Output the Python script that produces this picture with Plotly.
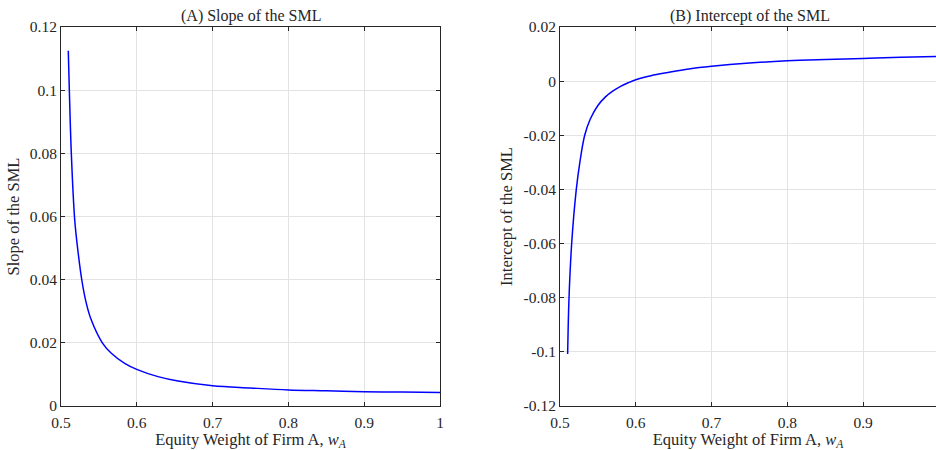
import plotly.graph_objects as go

# ---- data ----
w_slope = [0.5096, 0.511, 0.5136, 0.5181, 0.5224, 0.5277, 0.5334, 0.5400, 0.5545, 0.5664, 0.5840, 0.5999,
           0.6280, 0.6544, 0.70, 0.75, 0.80, 0.85, 0.90, 0.95, 1.00]
slope = [0.1125, 0.100, 0.080, 0.0589, 0.0490, 0.0395, 0.0325, 0.0272, 0.0200, 0.0167, 0.0135, 0.0116,
         0.0093, 0.0079, 0.0064, 0.0057, 0.0051, 0.0048, 0.0045, 0.0044, 0.0043]

w_int = [0.5101, 0.5119, 0.5154, 0.5215, 0.5262, 0.5326, 0.540, 0.550, 0.560, 0.570, 0.580, 0.590, 0.600,
         0.620, 0.6425, 0.670, 0.70, 0.75, 0.80, 0.85, 0.90, 0.95, 1.00]
intercept = [-0.1008, -0.080, -0.060, -0.040, -0.030, -0.020, -0.0140, -0.0090, -0.0058, -0.0036, -0.0019,
             -0.0006, 0.0005, 0.0020, 0.0032, 0.0045, 0.0055, 0.0067, 0.0075, 0.0080, 0.0084, 0.0088, 0.0091]

x_ticks = [0.5, 0.6, 0.7, 0.8, 0.9, 1.0]
x_ticktext = ["0.5", "0.6", "0.7", "0.8", "0.9", "1"]
yA_ticks = [0, 0.02, 0.04, 0.06, 0.08, 0.10, 0.12]
yA_ticktext = ["0", "0.02", "0.04", "0.06", "0.08", "0.1", "0.12"]
yB_ticks = [-0.12, -0.10, -0.08, -0.06, -0.04, -0.02, 0, 0.02]
yB_ticktext = ["-0.12", "-0.1", "-0.08", "-0.06", "-0.04", "-0.02", "0", "0.02"]

title_A = "(A) Slope of the SML"
title_B = "(B) Intercept of the SML"
xlabel = "Equity Weight of Firm A, <i>w</i><sub><i>A</i></sub>"
ylabel_A = "Slope of the SML"
ylabel_B = "Intercept of the SML"

TXT = "#262626"
GRID = "#e3e3e3"
FONT = "'Liberation Serif', 'Times New Roman', Times, serif"
W, H = 936, 450

fig = go.Figure()
fig.add_trace(go.Scatter(x=w_slope, y=slope, mode="lines",
                         line=dict(color="#0000ff", width=1.5, shape="spline", smoothing=1.0),
                         xaxis="x", yaxis="y", showlegend=False, hoverinfo="skip"))
fig.add_trace(go.Scatter(x=w_int, y=intercept, mode="lines",
                         line=dict(color="#0000ff", width=1.5, shape="spline", smoothing=1.0),
                         xaxis="x2", yaxis="y2", showlegend=False, hoverinfo="skip"))

yd = [1 - 406 / H, 1 - 27 / H]
xdA = [61 / W, 440 / W]
xdB = [560 / W, 1.0]

common = dict(showline=True, linecolor=TXT, linewidth=1, ticks="inside", ticklen=4, tickcolor=TXT,
              showgrid=True, gridcolor=GRID, gridwidth=1, zeroline=False, automargin=False,
              tickfont=dict(family=FONT, size=15.5, color=TXT))

fig.update_layout(
    width=W, height=H, margin=dict(l=0, r=0, t=0, b=0, autoexpand=False),
    paper_bgcolor="white", plot_bgcolor="white",
    font=dict(family=FONT, size=15, color=TXT),
    xaxis=dict(domain=xdA, range=[0.5, 1.0], tickvals=x_ticks, ticktext=x_ticktext, mirror="allticks", anchor="y",
               ticklabelstandoff=2,
               title=dict(text=xlabel, font=dict(family=FONT, size=16.5, color=TXT), standoff=3), **common),
    yaxis=dict(domain=yd, range=[0, 0.12], tickvals=yA_ticks, ticktext=yA_ticktext, mirror="allticks", anchor="x",
               title=dict(text=ylabel_A, font=dict(family=FONT, size=16.5, color=TXT), standoff=6), **common),
    xaxis2=dict(domain=xdB, range=[0.5, 0.9962], tickvals=x_ticks, ticktext=x_ticktext, mirror="allticks", anchor="y2",
                ticklabelstandoff=2,
                title=dict(text=xlabel, font=dict(family=FONT, size=16.5, color=TXT), standoff=3), **common),
    yaxis2=dict(domain=yd, range=[-0.12, 0.02], tickvals=yB_ticks, ticktext=yB_ticktext, mirror=False, anchor="x2",
                title=dict(text=ylabel_B, font=dict(family=FONT, size=16.5, color=TXT), standoff=6), **common),
    annotations=[
        dict(text=title_A, x=(xdA[0] + xdA[1]) / 2, y=yd[1], xref="paper", yref="paper", xanchor="center", yanchor="bottom",
             yshift=0, showarrow=False, font=dict(family=FONT, size=16, color=TXT)),
        dict(text=title_B, x=(560 / W + 939 / W) / 2, y=yd[1], xref="paper", yref="paper", xanchor="center", yanchor="bottom",
             yshift=0, showarrow=False, font=dict(family=FONT, size=16, color=TXT)),
    ],
)

fig.write_html("out.html")
